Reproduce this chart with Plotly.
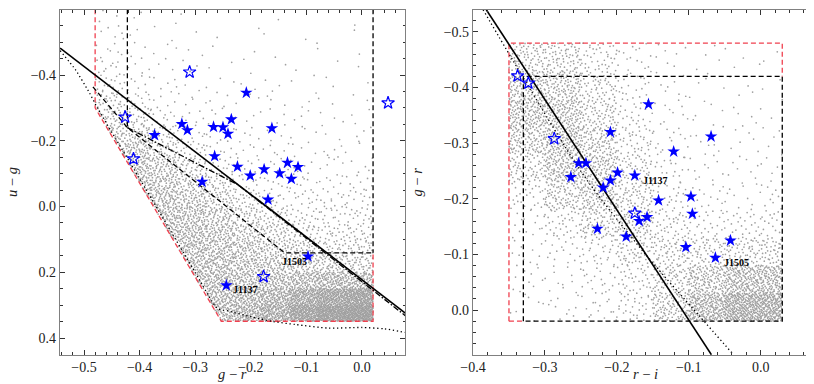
import plotly.graph_objects as go

# ---------------- data ----------------
# Left panel (g-r vs u-g): candidate stars
L_FILLED_GR = [-0.208, -0.235, -0.324, -0.314, -0.267, -0.250, -0.241, -0.162, -0.373, -0.265,
               -0.224, -0.134, -0.115, -0.176, -0.148, -0.201, -0.127, -0.2875, -0.169, -0.097, -0.244]
L_FILLED_UG = [-0.346, -0.265, -0.251, -0.232, -0.242, -0.241, -0.221, -0.238, -0.217, -0.153,
               -0.121, -0.133, -0.120, -0.113, -0.101, -0.094, -0.084, -0.075, -0.021, 0.152, 0.240]
L_OPEN_GR = [-0.310, -0.426, -0.411, -0.177, 0.047]
L_OPEN_UG = [-0.409, -0.272, -0.145, 0.213, -0.315]

# Right panel (r-i vs g-r)
R_FILLED_RI = [-0.156, -0.209, -0.069, -0.121, -0.253, -0.243, -0.199, -0.175, -0.264, -0.209,
               -0.219, -0.142, -0.097, -0.095, -0.158, -0.169, -0.227, -0.187, -0.042, -0.104, -0.063]
R_FILLED_GR = [-0.370, -0.320, -0.312, -0.285, -0.264, -0.264, -0.247, -0.242, -0.239, -0.233,
               -0.220, -0.197, -0.204, -0.173, -0.167, -0.160, -0.146, -0.132, -0.125, -0.113, -0.094]
R_OPEN_RI = [-0.338, -0.323, -0.287, -0.175]
R_OPEN_GR = [-0.421, -0.408, -0.308, -0.174]

# labelled objects: (name, x, y) for text placement
L_LABELS = [("J1137", -0.236, 0.252), ("J1505", -0.147, 0.167)]
R_LABELS = [("J1137", -0.167, -0.233), ("J1505", -0.054, -0.086)]

# Left panel selection lines
L_SOLID_X = [-0.543, 0.078]
L_SOLID_Y = [-0.482, 0.324]
L_DASH_X = [-0.484, -0.422, -0.139, 0.02]
L_DASH_Y = [-0.364, -0.240, 0.141, 0.141]
L_VDASH1_X = [-0.422, -0.422]
L_VDASH1_Y = [-0.60, -0.240]
L_VDASH2_X = [0.02, 0.02]
L_VDASH2_Y = [-0.60, 0.141]
L_DASHDOT_X = [-0.422, -0.223, 0.078]
L_DASHDOT_Y = [-0.240, -0.066, 0.332]
L_RED_X = [-0.48, -0.48, -0.253, 0.02, 0.02]
L_RED_Y = [-0.60, -0.30, 0.349, 0.349, 0.141]
L_DOT_X = [-0.543, -0.515, -0.490, -0.476, -0.400, -0.300, -0.260, -0.240, -0.200, -0.163, -0.120, -0.060, 0.000, 0.040, 0.078]
L_DOT_Y = [-0.474, -0.415, -0.345, -0.300, -0.085, 0.200, 0.310, 0.318, 0.335, 0.349, 0.359, 0.370, 0.368, 0.372, 0.383]

# Right panel selection lines
R_SOLID_X = [-0.3815, -0.0685]
R_SOLID_Y = [-0.540, 0.0804]
R_DOT_X = [-0.386, -0.345, -0.245, -0.160, -0.087, -0.038]
R_DOT_Y = [-0.540, -0.450, -0.240, -0.100, 0.008, 0.080]
R_RED_X = [-0.35, -0.35, 0.03, 0.03]
R_RED_Y = [0.02, -0.48, -0.48, -0.42]
R_RED_BOTTOM_X = [-0.35, -0.33]
R_RED_BOTTOM_Y = [0.02, 0.02]
R_BLACK_X = [-0.33, -0.33, 0.03, 0.03, -0.33]
R_BLACK_Y = [0.02, -0.42, -0.42, 0.02, 0.02]

# Background sample: estimated number of points per colour-colour cell
L_X_EDGES = [-0.48, -0.43, -0.38, -0.33, -0.28, -0.23, -0.18, -0.13, -0.08, -0.03, 0.02]
L_Y_EDGES = [-0.60, -0.55, -0.50, -0.45, -0.40, -0.35, -0.30, -0.25, -0.20, -0.15, -0.10,
             -0.05, 0.00, 0.05, 0.10, 0.15, 0.20, 0.25, 0.30, 0.35]
L_COUNTS = [
    [3, 2, 1, 1, 0, 0, 1, 0, 0, 1],
    [5, 3, 2, 1, 1, 1, 1, 1, 0, 1],
    [7, 5, 3, 2, 1, 1, 1, 1, 1, 1],
    [10, 5, 3, 3, 2, 2, 1, 1, 1, 1],
    [16, 8, 5, 3, 3, 2, 3, 2, 2, 1],
    [30, 14, 6, 5, 4, 3, 3, 3, 2, 2],
    [40, 28, 10, 6, 5, 4, 3, 3, 3, 3],
    [55, 42, 25, 8, 6, 5, 4, 4, 3, 3],
    [70, 70, 40, 20, 8, 6, 6, 5, 5, 4],
    [0, 80, 60, 35, 16, 8, 7, 6, 5, 5],
    [0, 80, 70, 50, 32, 13, 9, 9, 8, 8],
    [0, 80, 80, 65, 45, 25, 13, 12, 12, 11],
    [0, 0, 85, 78, 60, 40, 25, 16, 16, 16],
    [0, 0, 90, 85, 72, 55, 40, 26, 22, 22],
    [0, 0, 0, 90, 80, 68, 52, 45, 32, 32],
    [0, 0, 0, 90, 88, 78, 68, 62, 52, 45],
    [0, 0, 0, 90, 95, 88, 90, 100, 115, 105],
    [0, 0, 0, 0, 100, 110, 130, 180, 230, 250],
    [0, 0, 0, 0, 95, 130, 165, 250, 310, 340],
]

R_X_EDGES = [-0.35, -0.30, -0.25, -0.20, -0.15, -0.10, -0.05, 0.00, 0.03]
R_Y_EDGES = [-0.48, -0.43, -0.38, -0.33, -0.28, -0.23, -0.18, -0.13, -0.08, -0.03, 0.02]
R_COUNTS = [
    [75, 70, 40, 15, 7, 4, 4, 2],
    [120, 110, 55, 20, 8, 5, 4, 2],
    [145, 140, 72, 28, 10, 6, 5, 3],
    [115, 155, 100, 40, 14, 8, 6, 4],
    [65, 140, 120, 55, 20, 10, 8, 6],
    [28, 90, 115, 70, 28, 14, 12, 9],
    [14, 36, 75, 85, 42, 26, 26, 16],
    [11, 17, 30, 58, 65, 60, 68, 42],
    [9, 12, 20, 36, 80, 135, 195, 115],
    [7, 10, 16, 32, 104, 230, 330, 195],
]

# ---------------- helpers ----------------
def halton(i, b):
    f, r = 1.0, 0.0
    while i > 0:
        f /= b
        r += f * (i % b)
        i //= b
    return r


def inside(px, py, poly):
    n = len(poly)
    c = False
    j = n - 1
    for i in range(n):
        xi, yi = poly[i]
        xj, yj = poly[j]
        if ((yi > py) != (yj > py)) and (px < (xj - xi) * (py - yi) / (yj - yi) + xi):
            c = not c
        j = i
    return c


def fill_cells(xe, ye, counts, start, poly=None):
    xs, ys = [], []
    idx = start
    for r, row in enumerate(counts):
        for c, n in enumerate(row):
            x0, x1 = xe[c], xe[c + 1]
            y0, y1 = ye[r], ye[r + 1]
            for _ in range(n):
                idx += 1
                x = x0 + halton(idx, 2) * (x1 - x0)
                y = y0 + halton(idx, 3) * (y1 - y0)
                if poly is None or inside(x, y, poly):
                    xs.append(x)
                    ys.append(y)
    return xs, ys


L_POLY = list(zip(L_RED_X, L_RED_Y)) + [(0.02, -0.60)]
lgx, lgy = fill_cells(L_X_EDGES, L_Y_EDGES, L_COUNTS, 17, L_POLY)
rgx, rgy = fill_cells(R_X_EDGES, R_Y_EDGES, R_COUNTS, 40011)

# ---------------- figure ----------------
GRAY = "rgb(160,160,160)"
RED = "#f0404f"
BLUE = "#0000ff"
FONT = "Liberation Serif"

fig = go.Figure()


def add(x, y, xa, ya, **kw):
    fig.add_trace(go.Scatter(x=x, y=y, xaxis=xa, yaxis=ya, showlegend=False, hoverinfo="skip", **kw))


# background samples
add(lgx, lgy, "x", "y", mode="markers", marker=dict(size=1.7, color=GRAY, line=dict(width=0)))
add(rgx, rgy, "x2", "y2", mode="markers", marker=dict(size=1.7, color=GRAY, line=dict(width=0)))

DASH = "5px,3px"
# left panel lines
add(L_RED_X, L_RED_Y, "x", "y", mode="lines", line=dict(color=RED, width=1.3, dash=DASH))
add(L_DOT_X, L_DOT_Y, "x", "y", mode="lines", line=dict(color="black", width=1.3, dash="1.3px,2.7px", shape="spline", smoothing=0.6))
add(L_VDASH1_X, L_VDASH1_Y, "x", "y", mode="lines", line=dict(color="black", width=1.3, dash=DASH))
add(L_VDASH2_X, L_VDASH2_Y, "x", "y", mode="lines", line=dict(color="black", width=1.3, dash=DASH))
add(L_DASH_X, L_DASH_Y, "x", "y", mode="lines", line=dict(color="black", width=1.3, dash=DASH))
add(L_DASHDOT_X, L_DASHDOT_Y, "x", "y", mode="lines", line=dict(color="black", width=1.3, dash="6px,2px,1.5px,2px"))
add(L_SOLID_X, L_SOLID_Y, "x", "y", mode="lines", line=dict(color="black", width=1.6))

# right panel lines
add(R_RED_X, R_RED_Y, "x2", "y2", mode="lines", line=dict(color=RED, width=1.3, dash=DASH))
add(R_RED_BOTTOM_X, R_RED_BOTTOM_Y, "x2", "y2", mode="lines", line=dict(color=RED, width=1.3, dash=DASH))
add(R_BLACK_X, R_BLACK_Y, "x2", "y2", mode="lines", line=dict(color="black", width=1.3, dash=DASH))
add(R_DOT_X, R_DOT_Y, "x2", "y2", mode="lines", line=dict(color="black", width=1.3, dash="1.3px,2.7px", shape="spline", smoothing=0.8))
add(R_SOLID_X, R_SOLID_Y, "x2", "y2", mode="lines", line=dict(color="black", width=1.6))

# stars
add(L_FILLED_GR, L_FILLED_UG, "x", "y", mode="markers", marker=dict(symbol="star", size=9.5, color=BLUE, line=dict(width=0)))
add(L_OPEN_GR, L_OPEN_UG, "x", "y", mode="markers", marker=dict(symbol="star-open", size=9.5, color=BLUE, line=dict(width=1.2, color=BLUE)))
add(R_FILLED_RI, R_FILLED_GR, "x2", "y2", mode="markers", marker=dict(symbol="star", size=9.5, color=BLUE, line=dict(width=0)))
add(R_OPEN_RI, R_OPEN_GR, "x2", "y2", mode="markers", marker=dict(symbol="star-open", size=9.5, color=BLUE, line=dict(width=1.2, color=BLUE)))

ML, MR, MT, MB = 52, 4, 2, 37
PW = 814 - ML - MR
PH = 384 - MT - MB


def px_x(p):
    return (p - ML) / PW


def px_y(p):
    return (384 - MB - p) / PH


annotations = []
for name, x, y in L_LABELS:
    annotations.append(dict(x=x, y=y, xref="x", yref="y", text="<b>%s</b>" % name, showarrow=False,
                            xanchor="left", yanchor="middle", font=dict(family=FONT, size=10, color="black")))
for name, x, y in R_LABELS:
    annotations.append(dict(x=x, y=y, xref="x2", yref="y2", text="<b>%s</b>" % name, showarrow=False,
                            xanchor="left", yanchor="middle", font=dict(family=FONT, size=10, color="black")))

TITLE_FONT = dict(family=FONT, size=14.5, color="#222")
# axis titles
annotations.append(dict(x=px_x(224.8), y=px_y(366.5), xref="paper", yref="paper", text="<i>g</i> − <i>r</i>",
                        showarrow=False, xanchor="center", yanchor="middle", font=TITLE_FONT))
annotations.append(dict(x=px_x(637.5), y=px_y(366.5), xref="paper", yref="paper", text="<i>r</i> − <i>i</i>",
                        showarrow=False, xanchor="center", yanchor="middle", font=TITLE_FONT))
annotations.append(dict(x=px_x(3.5), y=px_y(174.5), xref="paper", yref="paper", text="<i>u</i> − <i>g</i>",
                        showarrow=False, xanchor="center", yanchor="middle", textangle=-90, font=TITLE_FONT))
annotations.append(dict(x=px_x(408), y=px_y(174.5), xref="paper", yref="paper", text="<i>g</i> − <i>r</i>",
                        showarrow=False, xanchor="center", yanchor="middle", textangle=-90, font=TITLE_FONT))

axis_common = dict(
    showgrid=False, zeroline=False, showline=True, linecolor="#808080", linewidth=1.3, mirror="allticks",
    ticks="inside", ticklen=5, tickwidth=1, tickcolor="#333",
    tickfont=dict(family=FONT, size=14, color="#222"), tickformat=".1f", automargin=False,
)
MINOR02 = dict(dtick=0.02, ticklen=2.5, ticks="inside", tickcolor="#333")

fig.update_layout(
    width=814, height=384,
    margin=dict(l=ML, r=MR, t=MT, b=MB),
    paper_bgcolor="white", plot_bgcolor="white",
    annotations=annotations,
    xaxis=dict(domain=[0, 345.3 / PW], range=[-0.5432, 0.078], dtick=0.1, tick0=0, ticklabelstandoff=-1,
               minor=MINOR02, anchor="y", **axis_common),
    yaxis=dict(domain=[0, 1], range=[0.4517, -0.5977], dtick=0.2, tick0=0,
               minor=dict(dtick=0.05, ticklen=2.5, ticks="inside", tickcolor="#333"),
               anchor="x", **axis_common),
    xaxis2=dict(domain=[(465 - ML) / PW, 1], range=[-0.4, 0.0797], dtick=0.1, tick0=0, ticklabelstandoff=-1,
                minor=MINOR02, anchor="y2", **axis_common),
    yaxis2=dict(domain=[0, 1], range=[0.0809, -0.5395], dtick=0.1, tick0=0,
                minor=MINOR02, anchor="x2", **axis_common),
)

fig.write_html("out.html")
